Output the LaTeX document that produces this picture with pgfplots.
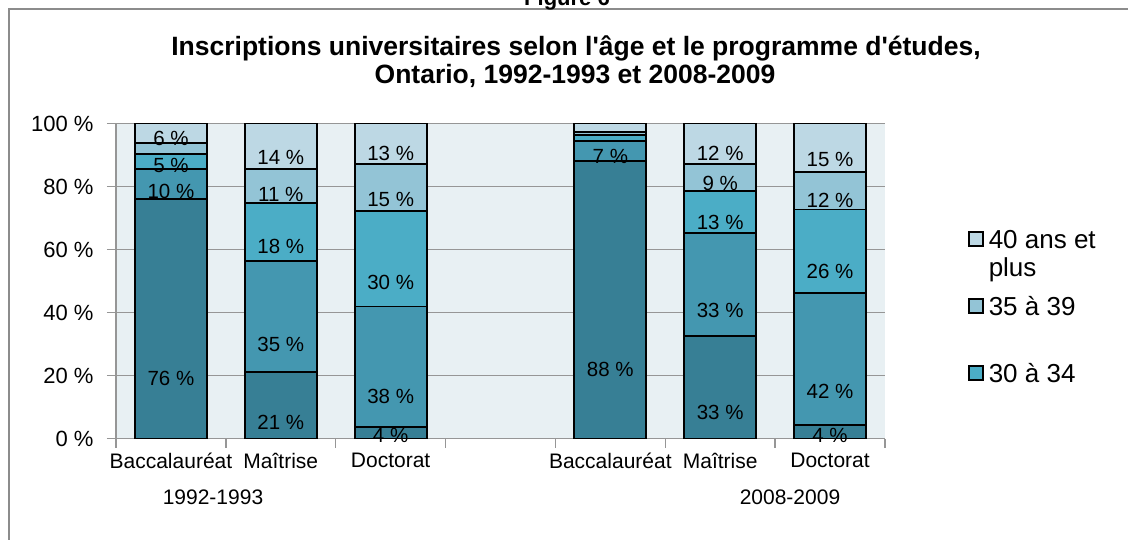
\documentclass[border=0pt]{standalone}
\usepackage{pgfplots}
\pgfplotsset{compat=1.18}
\usepackage{fontspec}
\setmainfont{Liberation Sans}
\newfontfamily\titlefont{Liberation Sans}

\definecolor{ageA}{HTML}{377F95}
\definecolor{ageB}{HTML}{4497B0}
\definecolor{ageC}{HTML}{4BADC6}
\definecolor{ageD}{HTML}{93C4D6}
\definecolor{ageE}{HTML}{BDD8E4}
\definecolor{plotbg}{HTML}{E8F0F3}
\definecolor{axgray}{HTML}{969696}
\definecolor{framegray}{HTML}{8C8C8C}

\begin{document}
\begin{tikzpicture}
\draw[framegray, line width=2pt] (9pt,-10pt) -- (9pt,530pt) -- (1140pt,530pt);
\node[font=\titlefont\bfseries\fontsize{22}{26}\selectfont, anchor=base] at (567pt,533pt) {Figure 6};
\node[font=\titlefont\bfseries\fontsize{26.5}{30}\selectfont, anchor=base] at (576pt,483pt)
  {Inscriptions universitaires selon l'âge et le programme d'études,};
\node[font=\titlefont\bfseries\fontsize{26.5}{30}\selectfont, anchor=base] at (575pt,455pt)
  {Ontario, 1992-1993 et 2008-2009};

\begin{axis}[
  at={(116pt,100.5pt)}, anchor=south west,
  scale only axis, width=769pt, height=315pt,
  xmin=-0.5, xmax=6.5, ymin=0, ymax=100,
  ybar stacked, bar width=72pt,
  axis lines*=left,
  axis line style={draw=axgray, line width=1.5pt},
  axis background/.style={fill=plotbg},
  ymajorgrids, grid style={draw=axgray, line width=1.5pt},
  ytick={0,20,...,100},
  yticklabels={0 \%,20 \%,40 \%,60 \%,80 \%,100 \%},
  xtick={0,1,2,4,5,6},
  xticklabels={Baccalauréat,Maîtrise,Doctorat,Baccalauréat,Maîtrise,Doctorat},
  minor xtick={-0.5,0.5,...,6.5},
  tick align=outside,
  major tick length=9pt, minor tick length=9pt,
  tick style={draw=axgray, line width=1.5pt},
  major x tick style={draw=none},
  yticklabel style={font=\fontsize{22}{26}\selectfont, xshift=-10pt},
  xticklabel style={font=\fontsize{21}{25}\selectfont, yshift=-2pt},
  every axis plot/.append style={draw=black, line width=1.9pt},
  nodes near coords,
  point meta=explicit symbolic,
  visualization depends on=rawy \as \rawy,
  every node near coord/.append style={anchor=center, text=black,
    font=\fontsize{20.5}{24}\selectfont,
    shift={(axis direction cs:0,-\rawy/4)}},
  legend style={at={(1.108,0.662)}, anchor=north west, draw=none, fill=none,
    inner sep=0pt, row sep=9pt,
    cells={anchor=base west},
    nodes={font=\fontsize{26}{28}\selectfont, inner sep=0pt,
      text height=18pt, text depth=40pt},
    /tikz/every odd column/.append style={column sep=5pt}},
  reverse legend,
  legend image code/.code={\draw[#1, draw=black, line width=1.5pt] (0pt,2pt) rectangle (14pt,16pt);},
  clip=false,
]
% moins de 25 ans
\addplot[fill=ageA, forget plot] coordinates {
  (0,76.0) [76 \%] (1,21.0) [21 \%] (2,3.7) [4 \%]
  (4,88.0) [88 \%] (5,32.6) [33 \%] (6,4.4) [4 \%]};
% 25 a 29
\addplot[fill=ageB, forget plot] coordinates {
  (0,9.6) [10 \%] (1,35.4) [35 \%] (2,38.2) [38 \%]
  (4,6.5) [7 \%] (5,32.5) [33 \%] (6,41.9) [42 \%]};
% 30 a 34
\addplot[fill=ageC] coordinates {
  (0,4.7) [5 \%] (1,18.4) [18 \%] (2,30.3) [30 \%]
  (4,1.9) [] (5,13.6) [13 \%] (6,26.4) [26 \%]};
\addlegendentry{30 à 34}
% 35 a 39
\addplot[fill=ageD] coordinates {
  (0,3.5) [] (1,10.8) [11 \%] (2,15.0) [15 \%]
  (4,0.8) [] (5,8.5) [9 \%] (6,11.9) [12 \%]};
\addlegendentry{35 à 39}
% 40 ans et plus
\addplot[fill=ageE] coordinates {
  (0,6.2) [6 \%] (1,14.4) [14 \%] (2,12.8) [13 \%]
  (4,2.8) [] (5,12.8) [12 \%] (6,15.4) [15 \%]};
\addlegendentry{\vtop{\hbox{40 ans et}\hbox{plus}}}
\end{axis}

\node[font=\fontsize{21}{25}\selectfont] at (213pt,42pt) {1992-1993};
\node[font=\fontsize{21}{25}\selectfont] at (790pt,42pt) {2008-2009};

\pgfresetboundingbox
\useasboundingbox (0pt,0pt) rectangle (1128pt,539pt);
\end{tikzpicture}
\end{document}
